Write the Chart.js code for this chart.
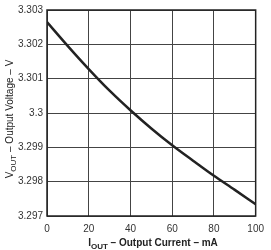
<!DOCTYPE html>
<html><head><meta charset="utf-8">
<script src="https://cdn.jsdelivr.net/npm/chart.js@4/dist/chart.umd.min.js"></script>
<style>html,body{margin:0;padding:0;background:#fff}#wrap{width:271px;height:250px}</style>
</head><body><div id="wrap"><canvas id="c" width="271" height="250"></canvas></div>
<script>
const currentMA = [0, 10, 20, 30, 40, 50, 60, 70, 80, 90, 100];
const outputV = [3.30265, 3.30195, 3.30128, 3.30065, 3.30008, 3.29955, 3.29906, 3.29861, 3.29817, 3.29776, 3.29734];
const xTicks = [0, 20, 40, 60, 80, 100];
const yTickLabels = ['3.297', '3.298', '3.299', '3.3', '3.301', '3.302', '3.303'];
const yTitle = ['V', 'OUT', ' \u2013 Output Voltage \u2013 V'];
const xTitle = ['I', 'OUT', ' \u2013 Output Current \u2013 mA'];

const FONT = '"Liberation Sans", Arial, sans-serif';

const framePlugin = {
  id: 'frame',
  afterDraw(chart) {
    const {ctx, chartArea: a} = chart;
    ctx.save();
    ctx.strokeStyle = '#222';
    ctx.lineWidth = 1.5;
    ctx.strokeRect(a.left, a.top, a.right - a.left, a.bottom - a.top);
    ctx.restore();
  }
};

function drawSubTitle(ctx, parts, bold, size) {
  const w = bold ? 'bold ' : '';
  const main = w + size + 'px ' + FONT;
  const sub = w + Math.round(size * 0.75) + 'px ' + FONT;
  ctx.font = main; const w0 = ctx.measureText(parts[0]).width;
  ctx.font = sub; const w1 = ctx.measureText(parts[1]).width;
  ctx.font = main; const w2 = ctx.measureText(parts[2]).width;
  const total = w0 + w1 + w2;
  let x = -total / 2;
  ctx.textBaseline = 'alphabetic';
  ctx.textAlign = 'left';
  ctx.font = main; ctx.fillText(parts[0], x, 0); x += w0;
  ctx.font = sub; ctx.fillText(parts[1], x, 3); x += w1;
  ctx.font = main; ctx.fillText(parts[2], x, 0);
}

const titlePlugin = {
  id: 'titles',
  afterDraw(chart) {
    const {ctx, chartArea: a} = chart;
    ctx.save();
    ctx.fillStyle = '#222';
    ctx.translate(13, (a.top + a.bottom) / 2 + 6);
    ctx.rotate(-Math.PI / 2);
    drawSubTitle(ctx, yTitle, false, 10);
    ctx.restore();
    ctx.save();
    ctx.fillStyle = '#222';
    ctx.translate(153, 246);
    drawSubTitle(ctx, xTitle, true, 10);
    ctx.restore();
  }
};

new Chart(document.getElementById('c'), {
  type: 'line',
  data: {
    datasets: [{
      data: currentMA.map((x, i) => ({x, y: outputV[i]})),
      borderColor: '#222',
      borderWidth: 2.5,
      pointRadius: 0,
      cubicInterpolationMode: 'monotone',
      fill: false
    }]
  },
  options: {
    responsive: false,
    animation: false,
    devicePixelRatio: 1,
    layout: {padding: {top: 5, right: 11, left: 0, bottom: 0}},
    plugins: {legend: {display: false}, tooltip: {enabled: false}},
    scales: {
      x: {
        type: 'linear', min: 0, max: 100,
        afterFit(s) { s.height = 34; },
        afterBuildTicks(s) { s.ticks = xTicks.map(v => ({value: v})); },
        ticks: {color: '#333', font: {size: 10, family: FONT}, padding: 7, maxRotation: 0,
          callback: v => String(v)},
        grid: {color: '#444', lineWidth: 1, drawTicks: false},
        border: {display: false}
      },
      y: {
        type: 'linear', min: 3.297, max: 3.303,
        afterFit(s) { s.width = 47; },
        afterBuildTicks(s) { s.ticks = yTickLabels.map(v => ({value: parseFloat(v)})); },
        ticks: {color: '#333', font: {size: 10, family: FONT}, padding: 4,
          callback: (v, i) => yTickLabels[i]},
        grid: {color: '#444', lineWidth: 1, drawTicks: false},
        border: {display: false}
      }
    }
  },
  plugins: [framePlugin, titlePlugin]
});
</script>
</body></html>
